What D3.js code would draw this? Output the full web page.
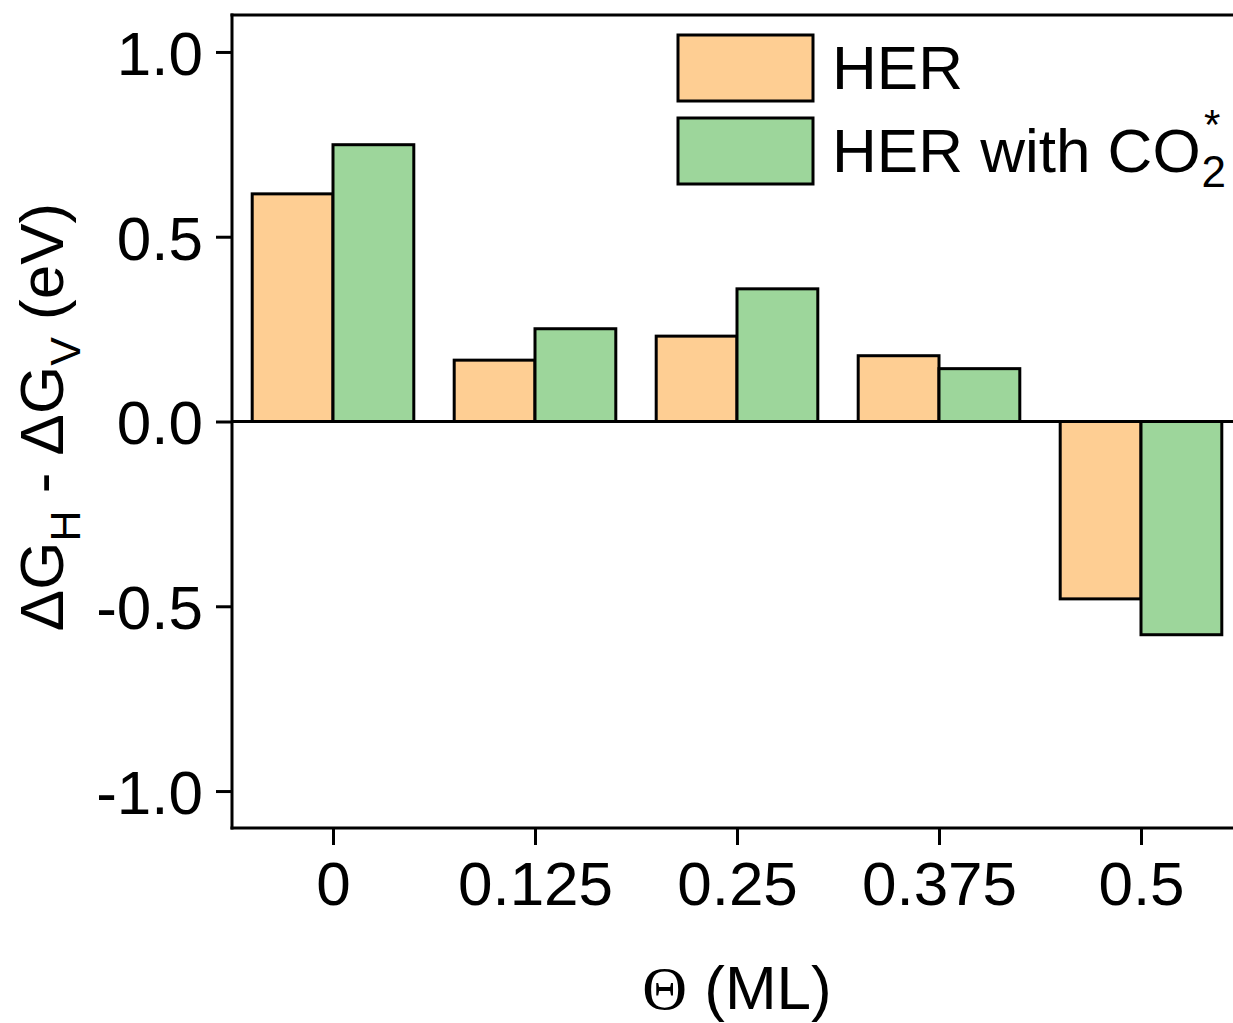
<!DOCTYPE html>
<html>
<head>
<meta charset="utf-8">
<script src="https://cdn.jsdelivr.net/npm/d3@7/dist/d3.min.js"></script>
<style>
  html, body { margin: 0; padding: 0; background: #fff; }
  svg { display: block; }
  text { font-family: "Liberation Sans", Arial, sans-serif; fill: #000; }
</style>
</head>
<body>
<svg id="chart" width="1233" height="1023"></svg>
<script>
// Coverage categories (ML)
const categories = ["0", "0.125", "0.25", "0.375", "0.5"];
// Series names
const seriesNames = ["HER", "HER with CO2*"];
// ΔG_H - ΔG_V values (eV)
const herValues = [0.616, 0.166, 0.231, 0.178, -0.480];
const herCO2Values = [0.749, 0.251, 0.359, 0.143, -0.577];
// Y tick values and labels
const yTicks = [-1.0, -0.5, 0.0, 0.5, 1.0];
const yTickLabels = ["-1.0", "-0.5", "0.0", "0.5", "1.0"];

const colors = ["#FECE93", "#9DD69B"];
const FONT = 62;

const svg = d3.select("#chart");
const margin = { left: 232, top: 15, bottom: 828, right: 1242 };

const x0 = d3.scaleBand()
  .domain(categories)
  .range([margin.left, margin.right])
  .paddingInner(0.2)
  .paddingOuter(0.1);

const x1 = d3.scaleBand()
  .domain(seriesNames)
  .range([0, x0.bandwidth()]);

const y = d3.scaleLinear()
  .domain([-1.1, 1.1])
  .range([margin.bottom, margin.top]);

const rows = categories.map((c, i) => ({
  cat: c,
  vals: [
    { s: seriesNames[0], v: herValues[i], color: colors[0] },
    { s: seriesNames[1], v: herCO2Values[i], color: colors[1] }
  ]
}));

// Bars
const groups = svg.append("g").selectAll("g")
  .data(rows).join("g")
  .attr("transform", d => `translate(${x0(d.cat)},0)`);

groups.selectAll("rect")
  .data(d => d.vals).join("rect")
  .attr("x", d => x1(d.s))
  .attr("width", x1.bandwidth())
  .attr("y", d => y(Math.max(0, d.v)))
  .attr("height", d => Math.abs(y(d.v) - y(0)))
  .attr("fill", d => d.color)
  .attr("stroke", "#000")
  .attr("stroke-width", 3);

// Zero line
svg.append("line")
  .attr("x1", margin.left).attr("x2", margin.right)
  .attr("y1", y(0)).attr("y2", y(0))
  .attr("stroke", "#000").attr("stroke-width", 3);

// Frame top edge
svg.append("line")
  .attr("x1", margin.left - 1.5).attr("x2", margin.right)
  .attr("y1", margin.top).attr("y2", margin.top)
  .attr("stroke", "#000").attr("stroke-width", 3);

// Y axis
const yAxis = d3.axisLeft(y)
  .tickValues(yTicks)
  .tickFormat((d, i) => yTickLabels[i])
  .tickSize(16)
  .tickPadding(13);

const gy = svg.append("g")
  .attr("transform", `translate(${margin.left},0)`)
  .call(yAxis);
gy.select(".domain").remove();
gy.selectAll(".tick line").attr("stroke", "#000").attr("stroke-width", 3);
gy.selectAll(".tick text")
  .attr("font-size", FONT)
  .attr("dy", "0.36em")
  .style("font-family", "'Liberation Sans', Arial, sans-serif");

svg.append("line")
  .attr("x1", margin.left).attr("x2", margin.left)
  .attr("y1", margin.top - 1.5).attr("y2", margin.bottom + 1.5)
  .attr("stroke", "#000").attr("stroke-width", 3);

// X axis
const xAxis = d3.axisBottom(d3.scalePoint()
    .domain(categories)
    .range([x0(categories[0]) + x0.bandwidth() / 2,
            x0(categories[categories.length - 1]) + x0.bandwidth() / 2]))
  .tickSize(17)
  .tickPadding(15);

const gx = svg.append("g")
  .attr("transform", `translate(0,${margin.bottom})`)
  .call(xAxis);
gx.select(".domain").remove();
gx.selectAll(".tick line").attr("stroke", "#000").attr("stroke-width", 3);
gx.selectAll(".tick text")
  .attr("font-size", FONT)
  .attr("dy", "0.72em")
  .style("font-family", "'Liberation Sans', Arial, sans-serif");

svg.append("line")
  .attr("x1", margin.left - 1.5).attr("x2", margin.right)
  .attr("y1", margin.bottom).attr("y2", margin.bottom)
  .attr("stroke", "#000").attr("stroke-width", 3);

// X axis title
const xt = svg.append("text")
  .attr("x", 737).attr("y", 1009)
  .attr("text-anchor", "middle")
  .attr("font-size", FONT);
xt.append("tspan").style("font-family", "'Liberation Serif', 'Times New Roman', serif").text("Θ");
xt.append("tspan").text(" (ML)");

// Y axis title
const yt = svg.append("text")
  .attr("transform", "translate(63,417) rotate(-90)")
  .attr("text-anchor", "middle")
  .attr("font-size", FONT);
yt.append("tspan").text("ΔG");
yt.append("tspan").attr("font-size", 43).attr("dy", 17).text("H");
yt.append("tspan").attr("dy", -17).text(" - ΔG");
yt.append("tspan").attr("font-size", 43).attr("dy", 17).text("V");
yt.append("tspan").attr("dy", -17).text(" (eV)");

// Legend
const legend = svg.append("g");
const legendRows = [
  { label: seriesNames[0], color: colors[0], y: 35 },
  { label: seriesNames[1], color: colors[1], y: 118 }
];
legend.selectAll("rect")
  .data(legendRows).join("rect")
  .attr("x", 678).attr("y", d => d.y)
  .attr("width", 135).attr("height", 66)
  .attr("fill", d => d.color)
  .attr("stroke", "#000").attr("stroke-width", 3);

legend.append("text")
  .attr("x", 832).attr("y", 89)
  .attr("font-size", FONT)
  .text("HER");

const lt = legend.append("text")
  .attr("x", 832).attr("y", 172)
  .attr("font-size", FONT);
lt.append("tspan").text("HER with CO");
lt.append("tspan").attr("font-size", 44).attr("dx", 1).attr("dy", 15).text("2");
lt.append("tspan").attr("font-size", 42).attr("dx", -22).attr("dy", -48).text("*");
</script>
</body>
</html>
